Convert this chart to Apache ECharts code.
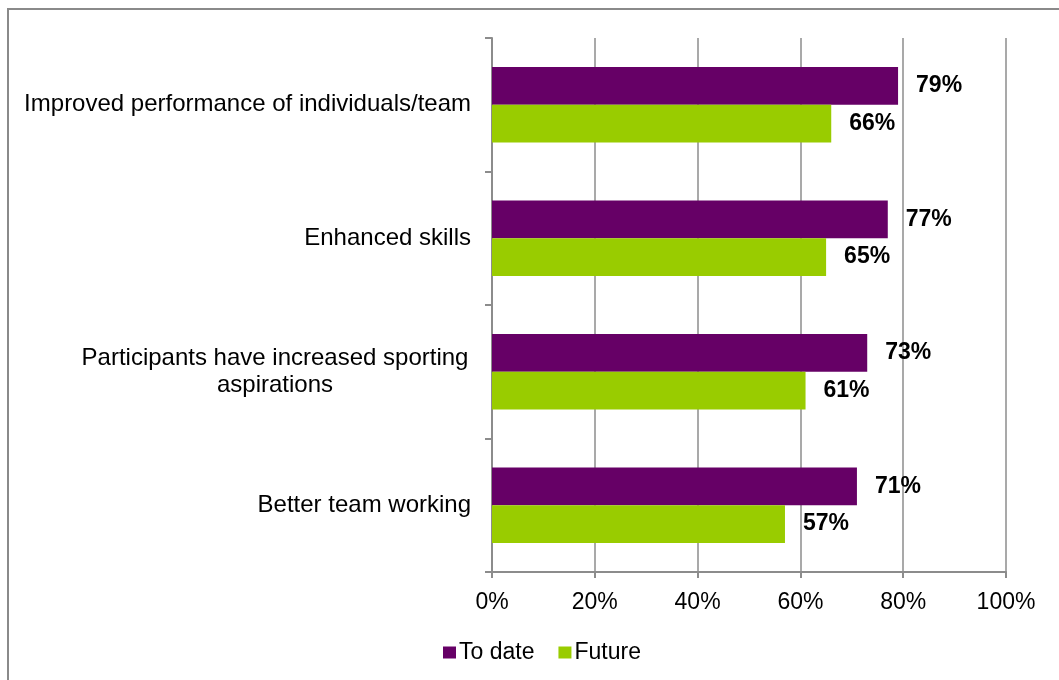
<!DOCTYPE html>
<html>
<head>
<meta charset="utf-8">
<script src="https://cdn.jsdelivr.net/npm/echarts@6/dist/echarts.min.js"></script>
<style>
  html, body { margin: 0; padding: 0; background: #ffffff; }
  #chart { width: 1059px; height: 680px; }
</style>
</head>
<body>
<div id="chart"></div>
<script>
// Outcomes, listed top to bottom
const categories = [
  'Improved performance of individuals/team',
  'Enhanced skills',
  'Participants have increased sporting\naspirations',
  'Better team working'
];
const seriesNames = ['To date', 'Future'];
const toDate = [79, 77, 73, 71];
const future = [66, 65, 61, 57];
const xTicks = [0, 20, 40, 60, 80, 100];

const FONT = '"Liberation Sans", Arial, sans-serif';
const GRID_GRAY = '#8c8c8c';

const chart = echarts.init(document.getElementById('chart'), null, { renderer: 'canvas' });

function barLabel() {
  return {
    show: true,
    position: 'right',
    distance: 18,
    formatter: p => p.value + '%',
    fontFamily: FONT,
    fontSize: 23,
    fontWeight: 'bold',
    color: '#000000'
  };
}

chart.setOption({
  backgroundColor: '#ffffff',
  animation: false,
  textStyle: { fontFamily: FONT },
  graphic: [{
    type: 'rect',
    silent: true,
    shape: { x: 8, y: 9, width: 2000, height: 2000 },
    style: { fill: 'none', stroke: '#8a8a8a', lineWidth: 2 },
    z: -10
  }],
  grid: { left: 492, right: 53, top: 38, bottom: 108, containLabel: false },
  legend: {
    left: 438,
    top: 636,
    itemWidth: 13,
    itemHeight: 12,
    itemGap: 24,
    icon: 'rect',
    textStyle: { fontFamily: FONT, fontSize: 23, color: '#000000', padding: [0, 0, 0, -2] },
    data: seriesNames
  },
  xAxis: {
    type: 'value',
    min: xTicks[0],
    max: xTicks[xTicks.length - 1],
    interval: xTicks[1] - xTicks[0],
    axisLine: { show: true, lineStyle: { color: GRID_GRAY, width: 2 } },
    axisTick: { show: true, length: 6, lineStyle: { color: GRID_GRAY, width: 2 } },
    splitLine: { show: true, lineStyle: { color: GRID_GRAY, width: 1.5 } },
    axisLabel: {
      formatter: v => v + '%',
      fontFamily: FONT,
      fontSize: 23,
      color: '#000000',
      margin: 19
    }
  },
  yAxis: {
    type: 'category',
    inverse: true,
    data: categories,
    axisLine: { show: true, lineStyle: { color: GRID_GRAY, width: 2 } },
    axisTick: { show: true, length: 7, lineStyle: { color: GRID_GRAY, width: 2 } },
    splitLine: { show: false },
    axisLabel: {
      margin: 21,
      fontFamily: FONT,
      fontSize: 24,
      color: '#000000',
      lineHeight: 27,
      formatter: function (v) {
        if (v.indexOf('\n') >= 0) {
          return v.split('\n').map(s => '{m|' + s + '}').join('\n');
        }
        return v;
      },
      rich: {
        m: { fontFamily: FONT, fontSize: 24, color: '#000000', width: 392, align: 'center', lineHeight: 27 }
      }
    }
  },
  series: [
    {
      name: seriesNames[0],
      type: 'bar',
      data: toDate,
      barWidth: 37.7,
      barGap: '0%',
      barCategoryGap: '43.5%',
      itemStyle: { color: '#660066' },
      label: barLabel()
    },
    {
      name: seriesNames[1],
      type: 'bar',
      data: future,
      barWidth: 37.7,
      barGap: '0%',
      barCategoryGap: '43.5%',
      itemStyle: { color: '#99cc00' },
      label: barLabel()
    }
  ]
});
</script>
</body>
</html>
